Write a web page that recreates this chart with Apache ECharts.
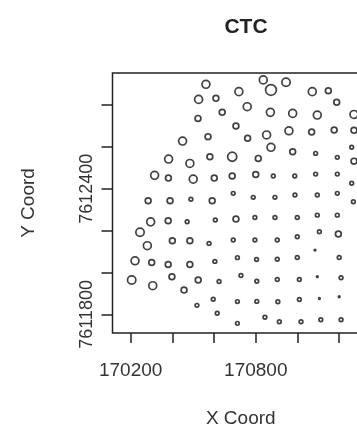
<!DOCTYPE html>
<html><head><meta charset="utf-8">
<script src="https://cdn.jsdelivr.net/npm/echarts@6/dist/echarts.min.js"></script>
<style>html,body{margin:0;padding:0;background:#fff}#c{width:357px;height:426px}</style>
</head><body><div id="c"></div>
<script>
const xCoord = [170561,170836,170873,170945,170719,171071,171148,170526,170609,171188,
170759,170639,170870,170977,171095,171271,170523,170705,170959,171068,
171176,171271,170571,170761,170852,170449,170873,170977,171087,171191,
171260,171271,170382,170484,170580,170687,170812,170315,170381,170500,
170601,170687,170800,170884,170987,171087,171191,171260,170284,170389,
170489,170591,170692,170788,170892,170988,171095,171191,171268,170296,
170380,170471,170606,170705,170796,170892,170999,171095,171191,170245,
170280,170400,170484,170576,170692,170796,170903,170999,171105,171196,
171084,171200,170221,170301,170380,170484,170604,170712,170804,170903,
170999,170205,170306,170398,170456,170524,170624,170729,170805,170903,
171009,171095,171209,170518,170596,170712,170805,170906,171009,171105,
171200,170615,170712,170844,170913,171017,171112,171209];
const yCoord = [7612899,7612920,7612872,7612909,7612864,7612864,7612868,7612827,7612832,7612813,
7612792,7612765,7612765,7612760,7612752,7612755,7612736,7612700,7612677,7612671,
7612681,7612679,7612649,7612641,7612657,7612628,7612598,7612577,7612569,7612550,
7612598,7612532,7612542,7612521,7612553,7612553,7612545,7612464,7612451,7612446,
7612451,7612461,7612468,7612461,7612461,7612470,7612470,7612426,7612343,7612343,
7612350,7612343,7612378,7612359,7612359,7612370,7612370,7612378,7612338,7612242,
7612247,7612242,7612251,7612255,7612263,7612263,7612263,7612274,7612274,7612192,
7612128,7612152,7612152,7612139,7612155,7612155,7612155,7612171,7612195,7612184,
7612107,7612072,7612056,7612048,7612038,7612038,7612053,7612071,7612062,7612063,
7612072,7611964,7611937,7611980,7611916,7611964,7611957,7611986,7611958,7611967,
7611967,7611980,7611975,7611843,7611872,7611861,7611862,7611860,7611871,7611876,
7611884,7611805,7611757,7611786,7611765,7611765,7611774,7611774];
const ctc = [.95,.95,1.3,1.0,.95,.95,.7,.95,.7,.7,
.95,.7,.95,.95,.95,.95,.7,.7,.95,.7,
.7,.7,.7,.7,.95,.95,.95,.7,.45,.45,
.45,.7,.95,.95,.7,1.1,.7,.95,.7,.95,
.7,.7,.7,.45,.45,.45,.45,.45,.7,.7,
.45,.7,.45,.45,.45,.45,.45,.45,.45,.95,
.7,.45,.45,.7,.45,.45,.45,.45,.45,1.0,
.95,.7,.7,.45,.45,.45,.45,.45,.45,.7,
.2,.45,.95,.7,.7,.7,.45,.45,.45,.45,
.45,1.0,.95,.7,.7,.7,.45,.45,.45,.45,
.45,.2,.45,.45,.45,.45,.45,.45,.45,.2,
.2,.45,.45,.45,.45,.45,.45,.45];
const xTicks = [170200,170400,170600,170800,171000,171200];
const xTickLabels = [170200,170800];
const yTicks = [7611800,7612000,7612200,7612400,7612600,7612800];
const yTickLabels = [7611800,7612400];
const titleText = 'CTC';
const xName = 'X Coord';
const yName = 'Y Coord';

const pts = xCoord.map((x,i)=>[x, yCoord[i], ctc[i]]);
const chart = echarts.init(document.getElementById('c'), null, {renderer:'canvas'});
const txt = '#333';
const font = 'Liberation Sans, Arial, sans-serif';
chart.setOption({
  animation:false,
  backgroundColor:'#fff',
  title:{text:titleText, left:241, top:12, textAlign:'center',
    textStyle:{fontFamily:font, fontSize:21, fontWeight:'bold', color:'#222'}},
  grid:{left:112.5, top:73, width:256.5, height:260, show:true, outerBoundsMode:'none', containLabel:false,
    borderColor:'#222', borderWidth:1.5, backgroundColor:'transparent'},
  xAxis:{type:'value', min:170113, max:171343, name:xName, nameLocation:'middle', nameGap:76, nameMoveOverlap:false,
    nameTextStyle:{fontFamily:font, fontSize:19, color:txt},
    axisLine:{show:false}, splitLine:{show:false},
    axisTick:{show:true, length:10, inside:false, customValues:xTicks, lineStyle:{color:'#222', width:1.5}},
    axisLabel:{customValues:xTickLabels, margin:28, fontFamily:font, fontSize:19, color:txt, formatter:v=>String(v)}},
  yAxis:{type:'value', min:7611711, max:7612953, name:yName, nameLocation:'middle', nameGap:74, nameRotate:90, nameMoveOverlap:false,
    nameTextStyle:{fontFamily:font, fontSize:19, color:txt},
    axisLine:{show:false}, splitLine:{show:false},
    axisTick:{show:true, length:11, inside:false, customValues:yTicks, lineStyle:{color:'#222', width:1.5}},
    axisLabel:{customValues:yTickLabels, rotate:90, margin:16, fontFamily:font, fontSize:18, color:txt, formatter:v=>String(v)}},
  series:[{type:'scatter', data:pts, clip:false,
    symbol:'circle', symbolSize:d=>d[2]*8.3,
    itemStyle:{color:'rgba(0,0,0,0)', borderColor:'#111', borderWidth:1.7}}]
});
</script></body></html>
